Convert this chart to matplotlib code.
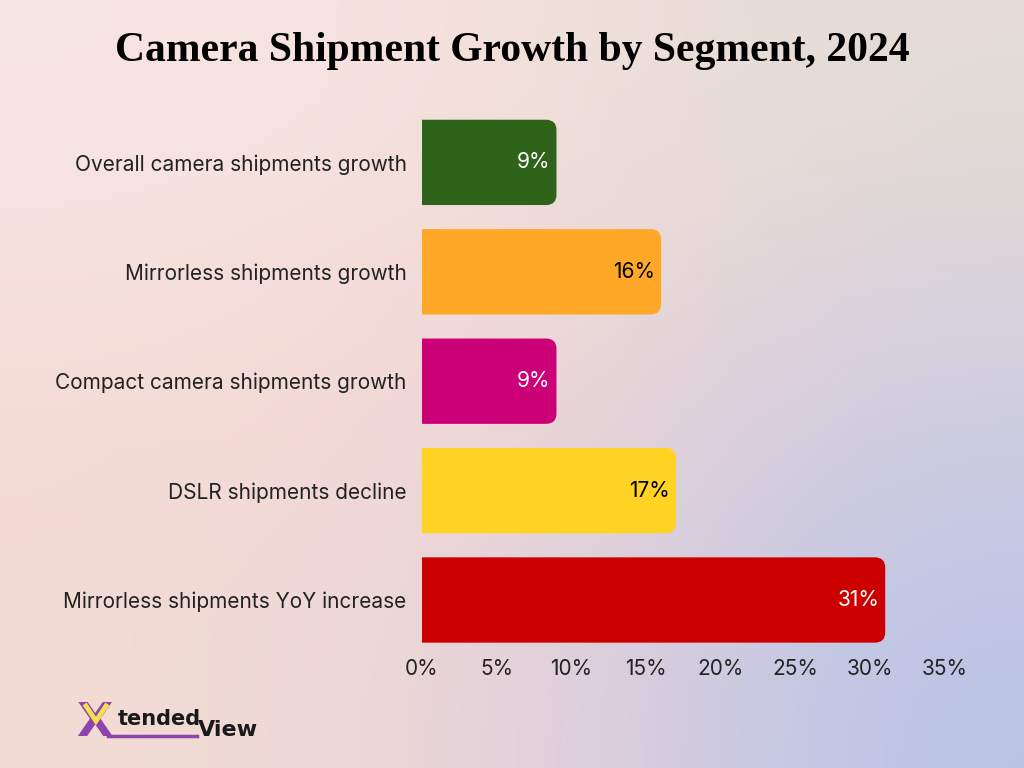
import numpy as np
import matplotlib.pyplot as plt
from matplotlib.patches import PathPatch
from matplotlib.path import Path
from matplotlib.colors import to_rgb

# data
categories = ["Overall camera shipments growth", "Mirrorless shipments growth",
              "Compact camera shipments growth", "DSLR shipments decline",
              "Mirrorless shipments YoY increase"]
values = [9, 16, 9, 17, 31]
bar_colors = ["#2e6319", "#ffa726", "#cc0077", "#ffd323", "#cc0000"]
label_colors = ["white", "black", "white", "black", "white"]
ticks = [0, 5, 10, 15, 20, 25, 30, 35]


def right_rounded_bar(y, v, h, rx, ry):
    """bar from 0 to v with only the right corners rounded"""
    y0, y1 = y - h / 2, y + h / 2
    verts = [(0, y0), (v - rx, y0), (v, y0), (v, y0 + ry), (v, y1 - ry),
             (v, y1), (v - rx, y1), (0, y1), (0, y0)]
    codes = [Path.MOVETO, Path.LINETO, Path.CURVE3, Path.CURVE3, Path.LINETO,
             Path.CURVE3, Path.CURVE3, Path.LINETO, Path.CLOSEPOLY]
    return Path(verts, codes)


fig = plt.figure(figsize=(10.24, 7.68), dpi=100)

# gradient background (3x3 colour grid, smoothly interpolated)
grid = [["#f8e6e4", "#f5e0da", "#e2ddd5"],
        ["#f5dcd6", "#f3d6d2", "#d2cde0"],
        ["#f2dcd3", "#e9d3da", "#b9c4e6"]]
g = np.array([[to_rgb(c) for c in row] for row in grid])
bg = fig.add_axes([0, 0, 1, 1], zorder=-10)
bg.imshow(g, extent=[0, 1, 0, 1], aspect="auto", interpolation="bicubic")
bg.axis("off")

ax = fig.add_axes([422 / 1024, 1 - 654.7 / 768, 523 / 1024, 547 / 768])
ax.patch.set_alpha(0)
ax.set_xlim(0, 35)
ax.set_ylim(4.5, -0.5)

h = 0.78
rx, ry = 0.7, 0.095   # corner radius in data units (~10 px each way)
for i, (v, c) in enumerate(zip(values, bar_colors)):
    ax.add_patch(PathPatch(right_rounded_bar(i, v, h, rx, ry), fc=c, ec="none"))
    ax.text(v - 0.4, i, f"{v}%", ha="right", va="center", fontsize=15,
            family="Inter", color=label_colors[i])

ax.set_yticks(range(len(categories)))
ax.set_yticklabels(categories, fontsize=15, family="Inter", color="#222222")
ax.set_xticks(ticks)
ax.set_xticklabels([f"{t}%" for t in ticks], fontsize=15, family="Inter", color="#222222")
ax.tick_params(length=0)
ax.tick_params(axis="y", pad=11)
ax.tick_params(axis="x", pad=3)
for s in ax.spines.values():
    s.set_visible(False)

fig.text(0.5, 0.933, "Camera Shipment Growth by Segment, 2024", ha="center", va="center",
         fontsize=30, fontweight="bold", family="Liberation Serif", color="black")

# logo
fig.text(0.074, 0.058, "X", fontsize=34, fontweight="bold", color="#8e44ad", family="DejaVu Sans",
         va="center")
fig.add_artist(plt.Line2D([86 / 1024, 96 / 1024, 106 / 1024],
                          [1 - 706 / 768, 1 - 721 / 768, 1 - 706 / 768],
                          color="#f4e04d", lw=3.5, solid_joinstyle="miter", zorder=6))
fig.text(0.115, 0.064, "tended", fontsize=15, fontweight="bold", color="#1a1a1a", family="DejaVu Sans",
         va="center")
fig.text(0.193, 0.05, "View", fontsize=16, fontweight="bold", color="#1a1a1a", family="DejaVu Sans",
         va="center")
fig.add_artist(plt.Line2D([0.105, 0.192], [0.042, 0.042], color="#8e44ad", lw=2.5))

fig.savefig("out.png", dpi=100)
